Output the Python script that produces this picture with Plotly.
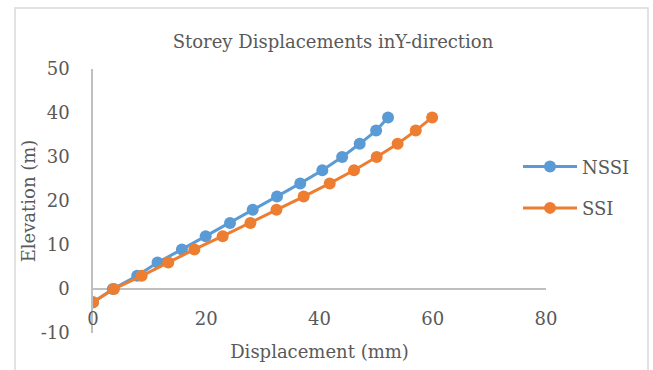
import plotly.graph_objects as go

elevation = [-3, 0, 3, 6, 9, 12, 15, 18, 21, 24, 27, 30, 33, 36, 39]
nssi = [0, 3.5, 7.8, 11.4, 15.7, 19.9, 24.2, 28.2, 32.5, 36.6, 40.5, 44.0, 47.1, 50.0, 52.1]
ssi = [0, 3.7, 8.6, 13.3, 17.9, 22.9, 27.8, 32.4, 37.2, 41.8, 46.1, 50.1, 53.8, 57.0, 59.9]
x_ticks = [0, 20, 40, 60, 80]
y_ticks = [-10, 0, 10, 20, 30, 40, 50]
y_tick_labels = ["-10", "0", "10", "20", "30", "40", "50"]

FONT = "DejaVu Serif"
GRAY = "#595959"
AX = "#BFBFBF"
FS = 18

fig = go.Figure()
fig.add_trace(go.Scatter(x=nssi, y=elevation, name="NSSI", mode="lines+markers",
                         line=dict(color="#5B9BD5", width=3),
                         marker=dict(size=12, color="#5B9BD5"),
                         legendgroup="a"))
fig.add_trace(go.Scatter(x=ssi, y=elevation, name="SSI", mode="lines+markers",
                         line=dict(color="#ED7D31", width=3),
                         marker=dict(size=12, color="#ED7D31"),
                         legendgroup="b"))

W, H = 653, 370
L, R, T, B = 93, 107, 68.5, 37
ph = H - T - B

fig.update_layout(
    width=W, height=H,
    margin=dict(l=L, r=R, t=T, b=B),
    paper_bgcolor="white", plot_bgcolor="white",
    font=dict(family=FONT, color=GRAY, size=FS),
    title=dict(text="Storey Displacements inY-direction", x=333 / W, xref="container",
               y=1 - 42 / H, yref="container", xanchor="center", yanchor="middle",
               font=dict(size=FS, color=GRAY, family=FONT)),
    showlegend=True,
    legend=dict(x=(518 - L) / 453, xanchor="left", y=(333 - 187) / ph, yanchor="middle",
                bgcolor="rgba(0,0,0,0)", font=dict(size=FS, color=GRAY),
                tracegroupgap=15, itemwidth=54),
    xaxis=dict(range=[0, 80], tickvals=x_ticks, showgrid=False, zeroline=False,
               showline=False, anchor="free", position=(333 - 306) / ph,
               ticks="", tickfont=dict(size=FS, color=GRAY),
               title=dict(text="Displacement (mm)", font=dict(size=FS, color=GRAY), standoff=17)),
    yaxis=dict(range=[-10, 50], tickvals=y_ticks, ticktext=y_tick_labels, showgrid=False,
               zeroline=True, zerolinecolor=AX, zerolinewidth=1.5,
               showline=True, linecolor=AX, linewidth=1.5,
               ticks="outside", ticklen=18, tickcolor="rgba(0,0,0,0)",
               tickfont=dict(size=FS, color=GRAY),
               title=dict(text="Elevation (m)", font=dict(size=FS, color=GRAY), standoff=0)),
    shapes=[dict(type="rect", xref="paper", yref="paper",
                 x0=(15 - L) / 453, x1=(648 - L) / 453,
                 y0=(333 - 372) / ph, y1=(333 - 7.5) / ph,
                 line=dict(color="#D9D9D9", width=1.5), fillcolor="rgba(0,0,0,0)", layer="below")],
)

fig.write_html("out.html")
